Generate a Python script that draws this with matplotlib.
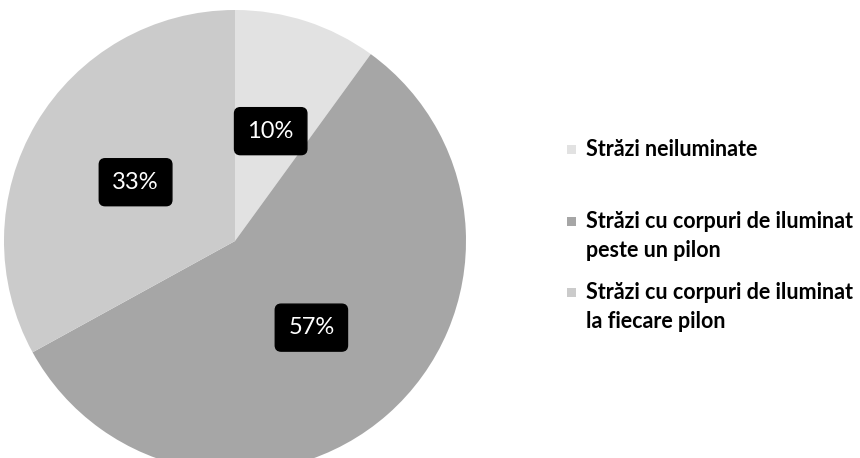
import matplotlib
matplotlib.use("Agg")
import matplotlib.pyplot as plt
from matplotlib.patches import Rectangle
import numpy as np

plt.rcParams['font.family'] = ['Lato', 'DejaVu Sans']

labels = ["Străzi neiluminate",
          "Străzi cu corpuri de iluminat\npeste un pilon",
          "Străzi cu corpuri de iluminat\nla fiecare pilon"]
values = [10, 57, 33]
colors = ["#e2e2e2", "#a6a6a6", "#cbcbcb"]

W, H = 860, 458
fig = plt.figure(figsize=(W / 100, H / 100), dpi=100)
# pie centre at about (235, 241) px, radius about 231 px
ax = fig.add_axes([4 / W, -14 / H, 462 / W, 462 / H])
wedges, texts = ax.pie(values, colors=colors, startangle=90, counterclock=False,
                       radius=1, wedgeprops=dict(linewidth=0))
ax.set_xlim(-1, 1)
ax.set_ylim(-1, 1)
ax.set_aspect('equal')
ax.axis('off')

for w, v in zip(wedges, values):
    ang = np.deg2rad((w.theta1 + w.theta2) / 2)
    r = 0.5
    ax.text(r * np.cos(ang), r * np.sin(ang), f"{v}%", color="white", fontsize=17,
            ha="center", va="center",
            bbox=dict(boxstyle="round,pad=0.55,rounding_size=0.25", fc="black", ec="black"))

# legend drawn by hand: entries are not evenly spaced in the original
entry_y = [150, 222, 293]   # first text line of each entry, px from top
for lab, c, y in zip(labels, colors, entry_y):
    fig.patches.append(Rectangle((567 / W, 1 - (y + 4) / H), 9 / W, 9 / H,
                                 transform=fig.transFigure, fc=c, ec="none"))
    t = fig.text(586 / W, 1 - y / H, lab, fontsize=15.5, fontweight="bold",
                 ha="left", va="center", linespacing=1.45)
    if "\n" in lab:
        t.set_va("top")
        t.set_y(1 - (y - 11) / H)

fig.savefig("out.png", dpi=100)
